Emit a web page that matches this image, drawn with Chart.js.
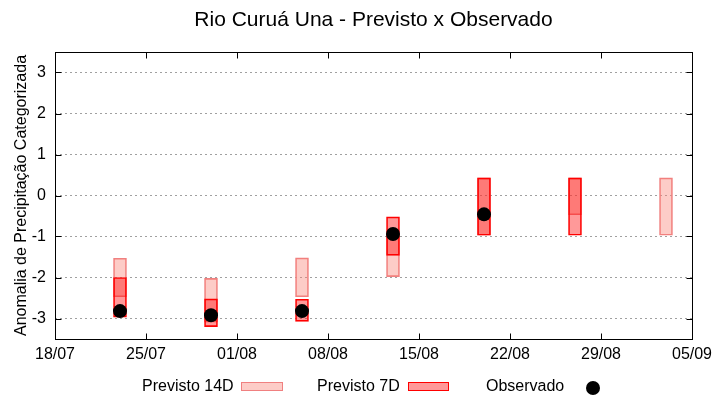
<!DOCTYPE html>
<html>
<head>
<meta charset="utf-8">
<script src="https://cdn.jsdelivr.net/npm/chart.js@4.4.1/dist/chart.umd.min.js"></script>
<style>
  html, body { margin: 0; padding: 0; background: #fff; }
  canvas { display: block; }
</style>
</head>
<body>
<canvas id="c" width="720" height="400"></canvas>
<script>
// ---- data ----
const chartTitle = 'Rio Curuá Una - Previsto x Observado';
const yAxisTitle = 'Anomalia de Precipitação Categorizada';
const dates = ['23/07', '30/07', '06/08', '13/08', '20/08', '27/08', '03/09'];
const prev14Low  = [-2.47, -3.09, -2.47, -1.98, -0.97, -0.47, -0.97];
const prev14High = [-1.53, -2.02, -1.52, -0.97,  0.43,  0.43,  0.43];
const prev7Low   = [-2.97, -3.20, -3.07, -1.46, -0.97, -0.97, null];
const prev7High  = [-2.00, -2.52, -2.53, -0.52,  0.43,  0.43, null];
const observed   = [-2.82, -2.92, -2.82, -0.94, -0.46, null, null];
const xTickLabels = ['18/07', '25/07', '01/08', '08/08', '15/08', '22/08', '29/08', '05/09'];
const yTicks = [-3, -2, -1, 0, 1, 2, 3];
const yMin = -3.5, yMax = 3.5;
const legendLabels = ['Previsto 14D', 'Previsto 7D', 'Observado'];

// ---- helpers ----
function dayNum(s) {
  const [d, m] = s.split('/').map(Number);
  return Date.UTC(2000, m - 1, d) / 86400000;
}
const base = dayNum(xTickLabels[0]);
const toX = s => dayNum(s) - base;
const xTickVals = xTickLabels.map(toX);

const c14 = { fill: 'rgba(250,128,114,0.4)', border: '#f08080' };
const c7 = { fill: 'rgba(255,0,0,0.4)', border: '#ff0000' };

const d14 = dates.map((d, i) => ({ x: toX(d), y: [prev14Low[i], prev14High[i]] }));
const d7 = dates.map((d, i) => prev7Low[i] === null ? null : ({ x: toX(d), y: [prev7Low[i], prev7High[i]] })).filter(Boolean);
const dObs = dates.map((d, i) => observed[i] === null ? null : ({ x: toX(d), y: observed[i] })).filter(Boolean);

Chart.defaults.font.family = '"Liberation Sans", Arial, sans-serif';
Chart.defaults.font.size = 16;
Chart.defaults.color = '#000';

const deco = {
  id: 'deco',
  afterDraw(chart) {
    const { ctx, chartArea: a, scales: { x, y } } = chart;
    ctx.save();
    const L = Math.round(a.left) + 0.5, R = Math.round(a.right) + 0.5;
    const T = Math.round(a.top) + 0.5, B = Math.round(a.bottom) + 0.5;
    ctx.strokeStyle = '#000';
    ctx.lineWidth = 1;
    ctx.setLineDash([]);
    ctx.strokeRect(L, T, R - L, B - T);
    ctx.beginPath();
    yTicks.forEach(v => {
      const py = Math.round(y.getPixelForValue(v)) + 0.5;
      ctx.moveTo(L, py); ctx.lineTo(L + 6, py);
      ctx.moveTo(R, py); ctx.lineTo(R - 6, py);
    });
    xTickVals.forEach(v => {
      const px = Math.round(x.getPixelForValue(v)) + 0.5;
      ctx.moveTo(px, B); ctx.lineTo(px, B - 6);
      ctx.moveTo(px, T); ctx.lineTo(px, T + 6);
    });
    ctx.stroke();

    // title
    ctx.fillStyle = '#000';
    ctx.font = '21px "Liberation Sans", Arial, sans-serif';
    ctx.textAlign = 'center';
    ctx.textBaseline = 'middle';
    ctx.fillText(chartTitle, (a.left + a.right) / 2, 20);

    // legend
    ctx.font = '16px "Liberation Sans", Arial, sans-serif';
    ctx.textAlign = 'left';
    const ly = 387;
    ctx.fillText(legendLabels[0], 142, ly);
    ctx.fillStyle = c14.fill; ctx.fillRect(241.5, 382.5, 41, 8);
    ctx.strokeStyle = c14.border; ctx.strokeRect(241.5, 382.5, 41, 8);
    ctx.fillStyle = '#000';
    ctx.fillText(legendLabels[1], 317, ly);
    ctx.fillStyle = c7.fill; ctx.fillRect(408.5, 382.5, 40, 8);
    ctx.strokeStyle = c7.border; ctx.strokeRect(408.5, 382.5, 40, 8);
    ctx.fillStyle = '#000';
    ctx.fillText(legendLabels[2], 486, ly);
    ctx.beginPath(); ctx.arc(593, 388, 7, 0, Math.PI * 2); ctx.fill();
    ctx.restore();
  }
};

new Chart(document.getElementById('c'), {
  type: 'bar',
  data: {
    datasets: [
      { type: 'scatter', label: legendLabels[2], data: dObs, order: 0,
        pointStyle: 'circle', pointRadius: 7, pointHoverRadius: 7,
        backgroundColor: '#000', borderColor: '#000', borderWidth: 0 },
      { label: legendLabels[1], data: d7, order: 1, grouped: false,
        backgroundColor: c7.fill, borderColor: c7.border, borderWidth: 1,
        borderSkipped: false, barThickness: 13 },
      { label: legendLabels[0], data: d14, order: 2, grouped: false,
        backgroundColor: c14.fill, borderColor: c14.border, borderWidth: 1,
        borderSkipped: false, barThickness: 13 }
    ]
  },
  options: {
    responsive: false,
    animation: false,
    devicePixelRatio: 1,
    layout: { padding: { top: 52, right: 28, bottom: 0, left: 0 } },
    plugins: { legend: { display: false }, title: { display: false }, tooltip: { enabled: false } },
    scales: {
      x: {
        type: 'linear', min: xTickVals[0], max: xTickVals[xTickVals.length - 1], offset: false,
        grid: { display: false, drawTicks: false },
        border: { display: false },
        afterBuildTicks: s => { s.ticks = xTickVals.map(v => ({ value: v })); },
        ticks: { padding: 6, maxRotation: 0, autoSkip: false,
          callback: (v) => xTickLabels[xTickVals.indexOf(v)] },
        afterFit: s => { s.height = 61; }
      },
      y: {
        type: 'linear', min: yMin, max: yMax,
        grid: { color: '#a0a0a0', lineWidth: 1, drawTicks: false },
        border: { display: false, dash: [2, 3] },
        afterBuildTicks: s => { s.ticks = yTicks.map(v => ({ value: v })); },
        ticks: { padding: 9, callback: v => String(v) },
        title: { display: true, text: yAxisTitle, font: { size: 16 }, padding: { top: 12, bottom: 0 } },
        afterFit: s => { s.width = 55; }
      }
    }
  },
  plugins: [deco]
});
</script>
</body>
</html>
